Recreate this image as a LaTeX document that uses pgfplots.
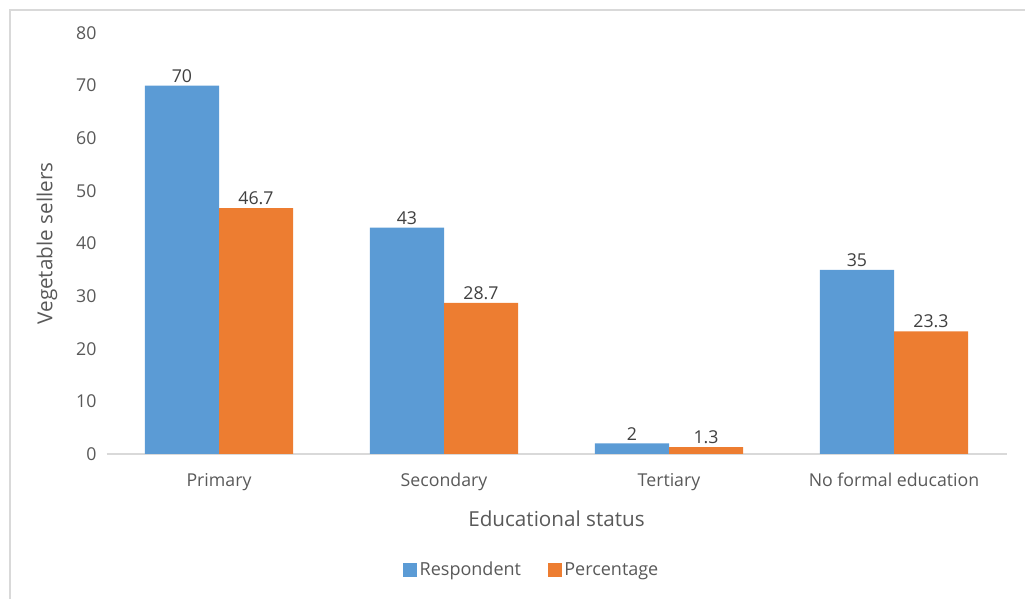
\documentclass[border=0pt]{standalone}
\usepackage{pgfplots}
\pgfplotsset{compat=1.18}
\usepackage{fontspec}
\setmainfont{Open Sans}
\definecolor{xlblue}{HTML}{5B9BD5}
\definecolor{xlorange}{HTML}{ED7D31}
\definecolor{txtgray}{HTML}{595959}
\definecolor{lblgray}{HTML}{404040}
\definecolor{framegray}{HTML}{D9D9D9}
\begin{document}
\begin{tikzpicture}
\useasboundingbox (0,0) rectangle (768.75pt,449.25pt);
\draw[framegray, line width=1pt] (7.5pt,0) -- (7.5pt,441.75pt) -- (768.75pt,441.75pt);
\begin{axis}[
  at={(79.875pt,108.75pt)}, anchor=south west,
  scale only axis, width=675pt, height=315.75pt,
  xmin=-0.5, xmax=3.5, ymin=0, ymax=80,
  ytick={0,10,...,80},
  xtick={0,1,2,3},
  xticklabels={Primary,Secondary,Tertiary,No formal education},
  axis y line=none,
  axis x line*=bottom,
  x axis line style={framegray, line width=1.2pt, -},
  y axis line style={draw=none},
  hide y axis=false,
  major tick length=0pt,
  tick style={draw=none},
  ticklabel style={font=\fontsize{13.3}{15}\selectfont, text=txtgray},
  /pgf/number format/assume math mode=true,
  yticklabel style={xshift=-4pt},
  xticklabel style={yshift=-11pt},
  xlabel={Educational status},
  ylabel={Vegetable sellers},
  every axis x label/.style={at={(axis description cs:0.5,-0.1544)}, anchor=center,
     font=\fontsize{15.5}{18}\selectfont, text=txtgray},
  every axis y label/.style={at={(axis description cs:-0.0661,0.5)}, anchor=center, rotate=90,
     font=\fontsize{15.5}{18}\selectfont, text=txtgray},
  ybar=0pt, bar width=0.329,
  nodes near coords,
  every node near coord/.append style={font=\fontsize{13.3}{15}\selectfont, text=lblgray, yshift=-1pt},
  legend columns=2,
  legend style={draw=none, fill=none, at={(axis description cs:0.4728,-0.2755)}, anchor=center,
    font=\fontsize{13.5}{15}\selectfont, text=txtgray,
    /tikz/every even column/.append style={column sep=18pt}},
  legend image code/.code={\fill[#1] (0pt,-5.25pt) rectangle (10.5pt,5.25pt);},
]
\addplot[fill=xlblue, draw=none, bar shift=-0.1645] coordinates {(0,70) (1,43) (2,2) (3,35)};
\addplot[fill=xlorange, draw=none, bar shift=0.1645] coordinates {(0,46.7) (1,28.7) (2,1.3) (3,23.3)};
\legend{Respondent,Percentage}
\end{axis}
\end{tikzpicture}
\end{document}
